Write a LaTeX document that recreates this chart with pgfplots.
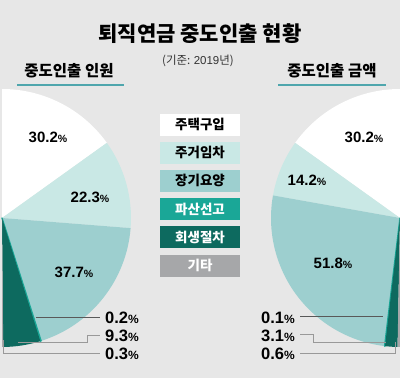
\documentclass[border=0pt]{standalone}
\usepackage{pgfplots}
\pgfplotsset{compat=1.18}
\usepackage{fontspec}
\setmainfont{Noto Sans CJK KR}
\newfontfamily\numf{Liberation Sans}
\definecolor{bg}{HTML}{E7E7E7}
\definecolor{cA}{HTML}{FFFFFF}
\definecolor{cB}{HTML}{C9E8E5}
\definecolor{cC}{HTML}{9DCFCF}
\definecolor{cD}{HTML}{1AA797}
\definecolor{cE}{HTML}{0D6A5F}
\definecolor{cF}{HTML}{A6A7A9}
\definecolor{uline}{HTML}{4FA6AD}
\newcommand\pc{{\fontsize{10.5}{10.5}\selectfont\%}}
\newcommand\pcb{{\fontsize{12}{12}\selectfont\%}}
\begin{document}
\begin{tikzpicture}
% data: left = 중도인출 인원, right = 중도인출 금액 (percent)
\def\LA{30.2}\def\LB{22.3}\def\LC{37.7}\def\LD{0.2}\def\LE{9.3}\def\LF{0.3}
\def\RA{30.2}\def\RB{14.2}\def\RC{51.8}\def\RD{0.1}\def\RE{3.1}\def\RF{0.6}
\pgfmathsetmacro\la{90}
\pgfmathsetmacro\lb{\la-1.8*\LA}
\pgfmathsetmacro\lc{\lb-1.8*\LB}
\pgfmathsetmacro\ld{\lc-1.8*\LC}
\pgfmathsetmacro\le{\ld-1.8*\LD}
\pgfmathsetmacro\lf{\le-1.8*\LE}
\pgfmathsetmacro\lg{\lf-1.8*\LF}
\pgfmathsetmacro\ra{90}
\pgfmathsetmacro\rb{\ra+1.8*\RA}
\pgfmathsetmacro\rc{\rb+1.8*\RB}
\pgfmathsetmacro\rd{\rc+1.8*\RC}
\pgfmathsetmacro\re{\rd+1.8*\RD}
\pgfmathsetmacro\rf{\re+1.8*\RE}
\pgfmathsetmacro\rg{\rf+1.8*\RF}
\begin{axis}[width=400pt,height=378pt,scale only axis,
  xmin=0,xmax=400,ymin=0,ymax=378,y dir=reverse,
  axis lines=none,clip=true]
\fill[bg] (axis cs:0,0) rectangle (axis cs:400,378);
\def\R{129pt}
% left pie
\fill[cA] (axis cs:2,218) -- ++(\la:\R) arc[start angle=\la,end angle=\lb,radius=\R] -- cycle;
\fill[cB] (axis cs:2,218) -- ++(\lb:\R) arc[start angle=\lb,end angle=\lc,radius=\R] -- cycle;
\fill[cC] (axis cs:2,218) -- ++(\lc:\R) arc[start angle=\lc,end angle=\ld,radius=\R] -- cycle;
\filldraw[cD,line width=1.4pt,line join=round] (axis cs:2,218) -- ++(\ld:\R) arc[start angle=\ld,end angle=\le,radius=\R] -- cycle;
\fill[cE] (axis cs:2,218) -- ++(\le:\R) arc[start angle=\le,end angle=\lf,radius=\R] -- cycle;
\fill[cF] (axis cs:2,218) -- ++(\lf:\R) arc[start angle=\lf,end angle=\lg,radius=\R] -- cycle;
% right pie
\fill[cA] (axis cs:400,218) -- ++(\ra:\R) arc[start angle=\ra,end angle=\rb,radius=\R] -- cycle;
\fill[cB] (axis cs:400,218) -- ++(\rb:\R) arc[start angle=\rb,end angle=\rc,radius=\R] -- cycle;
\fill[cC] (axis cs:400,218) -- ++(\rc:\R) arc[start angle=\rc,end angle=\rd,radius=\R] -- cycle;
\filldraw[cD,line width=1.4pt,line join=round] (axis cs:400,218) -- ++(\rd:\R) arc[start angle=\rd,end angle=\re,radius=\R] -- cycle;
\fill[cE] (axis cs:400,218) -- ++(\re:\R) arc[start angle=\re,end angle=\rf,radius=\R] -- cycle;
\fill[cF] (axis cs:400,218) -- ++(\rf:\R) arc[start angle=\rf,end angle=\rg,radius=\R] -- cycle;
% header
\node[font=\bfseries\fontsize{21}{24}\selectfont] at (axis cs:200,34) {퇴직연금 중도인출 현황};
\node[font=\fontsize{11.5}{13}\selectfont,text=black!80] at (axis cs:198,61) {(기준: {\numf 2019}년)};
\node[font=\bfseries\fontsize{15.5}{18}\selectfont] at (axis cs:69,71) {중도인출 인원};
\node[font=\bfseries\fontsize{15.5}{18}\selectfont] at (axis cs:332,71) {중도인출 금액};
\draw[uline,line width=2pt] (axis cs:17,85) -- (axis cs:124,85);
\draw[uline,line width=2pt] (axis cs:278,85) -- (axis cs:386,85);
% legend
\tikzset{lg/.style={minimum width=80pt,minimum height=22pt,inner sep=0pt,font=\bfseries\fontsize{13.5}{15}\selectfont}}
\node[lg,fill=cA,text=black] at (axis cs:200,124.5) {주택구입};
\node[lg,fill=cB,text=black] at (axis cs:200,152.7) {주거임차};
\node[lg,fill=cC,text=black] at (axis cs:200,180.9) {장기요양};
\node[lg,fill=cD,text=white] at (axis cs:200,209.1) {파산선고};
\node[lg,fill=cE,text=white] at (axis cs:200,237.3) {회생절차};
\node[lg,fill=cF,text=white] at (axis cs:200,265.5) {기타};
% pie labels
\tikzset{pl/.style={font=\numf\bfseries\fontsize{15}{15}\selectfont,inner sep=0pt}}
\node[pl] at (axis cs:48,137) {\LA\pc};
\node[pl] at (axis cs:90,197) {\LB\pc};
\node[pl] at (axis cs:74,272) {\LC\pc};
\node[pl] at (axis cs:364,137) {\RA\pc};
\node[pl] at (axis cs:307,180) {\RB\pc};
\node[pl] at (axis cs:333,263) {\RC\pc};
% leader lines left
\draw[black!65,line width=0.8pt] (axis cs:36,317) -- (axis cs:100,317);
\draw[black!40,line width=0.9pt] (axis cs:18,342) -- (axis cs:87,342) -- (axis cs:87,335) -- (axis cs:100,335);
\draw[black!40,line width=0.9pt] (axis cs:3,340) -- (axis cs:3,353) -- (axis cs:100,353);
\tikzset{ll/.style={font=\numf\bfseries\fontsize{16.5}{16.5}\selectfont,inner sep=0pt}}
\node[ll,anchor=west] at (axis cs:105,318) {\LD\pcb};
\node[ll,anchor=west] at (axis cs:105,336) {\LE\pcb};
\node[ll,anchor=west] at (axis cs:105,354) {\LF\pcb};
% leader lines right
\draw[black!65,line width=0.8pt] (axis cs:300,316) -- (axis cs:383,316);
\draw[black!40,line width=0.9pt] (axis cs:300,334) -- (axis cs:313,334) -- (axis cs:313,342) -- (axis cs:386,342);
\draw[black!40,line width=0.9pt] (axis cs:300,353) -- (axis cs:395,353) -- (axis cs:395,342);
\node[ll,anchor=east] at (axis cs:295,318) {\RD\pcb};
\node[ll,anchor=east] at (axis cs:295,336) {\RE\pcb};
\node[ll,anchor=east] at (axis cs:295,354) {\RF\pcb};
\end{axis}
\pgfresetboundingbox
\useasboundingbox (0,0) rectangle (400pt,378pt);
\end{tikzpicture}
\end{document}
